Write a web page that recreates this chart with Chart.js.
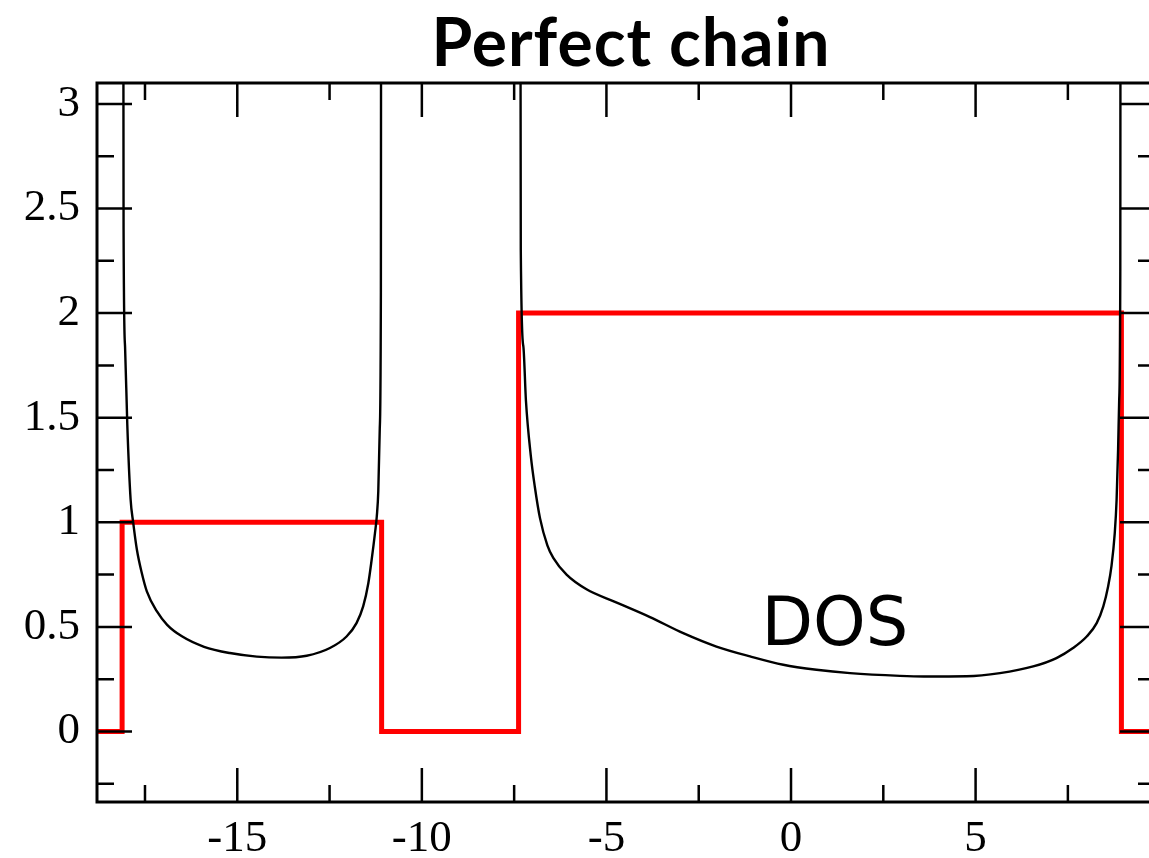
<!DOCTYPE html>
<html lang="en">
<head>
  <meta charset="UTF-8" />
  <title>Perfect chain</title>
  <script src="https://cdn.jsdelivr.net/npm/chart.js"></script>
  <style>
    html, body {
      margin: 0;
      padding: 0;
      background: #ffffff;
      overflow: hidden;
    }
    #wrap {
      width: 1158px;
      height: 858px;
    }
  </style>
</head>
<body>
  <div id="wrap">
    <canvas id="dosChart" width="1158" height="858"></canvas>
  </div>

  <script>
    // energy ticks
    const xMajor = [-15, -10, -5, 0, 5];
    const xMinor = [-17.5, -12.5, -7.5, -2.5, 2.5, 7.5];
    const yMajor = [0, 0.5, 1, 1.5, 2, 2.5, 3];
    const yMinor = [-0.25, 0.25, 0.75, 1.25, 1.75, 2.25, 2.75];

    // DOS, lower band (diverges at both edges)
    const band1E = [-18.11, -18.08, -18.04, -17.98, -17.89, -17.82, -17.72, -17.59, -17.45, -17.18,
                    -16.9, -16.5, -15.9, -15.2, -14.47, -13.80, -13.12, -12.49, -12.04, -11.77,
                    -11.59, -11.45, -11.36, -11.27, -11.22, -11.18, -11.14, -11.11, -11.09];
    const band1D = [8, 2.4, 1.84, 1.47, 1.11, 1.0, 0.87, 0.76, 0.67, 0.575,
                    0.51, 0.455, 0.405, 0.375, 0.358, 0.353, 0.362, 0.399, 0.454, 0.518,
                    0.598, 0.709, 0.821, 0.948, 1.03, 1.15, 1.45, 2.1, 8];

    // DOS, upper band
    const band2E = [-7.36, -7.32, -7.25, -7.18, -7.05, -6.94, -6.80, -6.60, -6.44, -6.08,
                    -5.54, -4.77, -3.82, -2.92, -2.02, -1.11, -0.21, 0.69, 1.60, 2.95,
                    3.6, 4.76, 5.66, 6.56, 7.19, 7.64, 8.01, 8.28, 8.46, 8.59,
                    8.68, 8.77, 8.82, 8.86, 8.89, 8.92, 8.94];
    const band2D = [8, 2.3, 1.84, 1.58, 1.32, 1.17, 1.02, 0.89, 0.83, 0.75,
                    0.68, 0.62, 0.547, 0.47, 0.406, 0.359, 0.319, 0.295, 0.279, 0.266,
                    0.263, 0.264, 0.279, 0.311, 0.351, 0.399, 0.454, 0.518, 0.598, 0.693,
                    0.789, 0.948, 1.108, 1.347, 1.586, 2.2, 8];

    // number of channels (red steps)
    const stepE = [-18.8, -18.12, -11.09, -7.38, 8.95, 9.86];
    const stepN = [0, 1, 0, 2, 0, 0];

    const titleText = "Perfect chain";
    const dosLabel = { text: "DOS", x: -0.8, y: 0.415 };

    const toPts = (xs, ys) => xs.map((v, i) => ({ x: v, y: ys[i] }));

    const frame = {
      id: "frame",
      afterDraw(chart) {
        const { ctx, chartArea: a, scales: { x, y } } = chart;
        ctx.save();
        ctx.strokeStyle = "#000";
        ctx.lineWidth = 2.5;
        ctx.beginPath();
        const xt = (vals, len) => vals.forEach(v => {
          const px = x.getPixelForValue(v);
          ctx.moveTo(px, a.bottom); ctx.lineTo(px, a.bottom - len);
          ctx.moveTo(px, a.top); ctx.lineTo(px, a.top + len);
        });
        const yt = (vals, len) => vals.forEach(v => {
          const py = y.getPixelForValue(v);
          ctx.moveTo(a.left, py); ctx.lineTo(a.left + len, py);
          ctx.moveTo(a.right, py); ctx.lineTo(a.right - len, py);
        });
        xt(xMajor, 34); xt(xMinor, 17);
        yt(yMajor, 35); yt(yMinor, 17);
        ctx.stroke();

        ctx.lineWidth = 3;
        ctx.strokeRect(a.left, a.top, a.right - a.left, a.bottom - a.top);

        ctx.fillStyle = "#000";
        ctx.textBaseline = "alphabetic";

        // title
        ctx.font = 'bold 66px Lato, "Open Sans", sans-serif';
        ctx.letterSpacing = "1px";
        ctx.textAlign = "center";
        ctx.fillText(titleText, (a.left + a.right) / 2 + 5, a.top - 17);
        ctx.letterSpacing = "0px";

        ctx.font = '67px "DejaVu Sans"';
        ctx.textAlign = "left";
        ctx.fillText(dosLabel.text, x.getPixelForValue(dosLabel.x), y.getPixelForValue(dosLabel.y));
        ctx.restore();
      }
    };

    const tickFont = { family: '"Liberation Serif", "Times New Roman", serif', size: 45 };

    new Chart(document.getElementById("dosChart"), {
      type: "scatter",
      data: {
        datasets: [
          {
            data: toPts(band1E, band1D),
            showLine: true,
            borderColor: "#000",
            borderWidth: 2.4,
            pointRadius: 0,
            cubicInterpolationMode: "monotone",
            clip: 0
          },
          {
            data: toPts(band2E, band2D),
            showLine: true,
            borderColor: "#000",
            borderWidth: 2.4,
            pointRadius: 0,
            cubicInterpolationMode: "monotone",
            clip: 0
          },
          {
            data: toPts(stepE, stepN),
            showLine: true,
            stepped: true,
            borderColor: "#ff0000",
            borderWidth: 5,
            pointRadius: 0,
            clip: 0
          }
        ]
      },
      options: {
        responsive: false,
        animation: false,
        events: [],
        layout: { padding: { left: 0, right: 3, top: 83, bottom: 0 } },
        elements: { line: { capBezierPoints: false } },
        plugins: {
          legend: { display: false },
          tooltip: { enabled: false },
          title: { display: false }
        },
        scales: {
          x: {
            type: "linear",
            min: -18.8,
            max: 9.86,
            grid: { display: false },
            border: { display: false },
            afterBuildTicks: s => { s.ticks = xMajor.map(v => ({ value: v })); },
            afterFit: s => { s.height = 56; },
            ticks: {
              color: "#000",
              font: tickFont,
              padding: 2,
              maxRotation: 0,
              autoSkip: false,
              callback: v => String(v)
            }
          },
          y: {
            type: "linear",
            min: -0.337,
            max: 3.1,
            grid: { display: false },
            border: { display: false },
            afterBuildTicks: s => { s.ticks = yMajor.map(v => ({ value: v })); },
            afterFit: s => { s.width = 97; },
            ticks: {
              color: "#000",
              font: tickFont,
              padding: 9,
              autoSkip: false,
              callback: v => String(v)
            }
          }
        }
      },
      plugins: [frame]
    });
  </script>
</body>
</html>
